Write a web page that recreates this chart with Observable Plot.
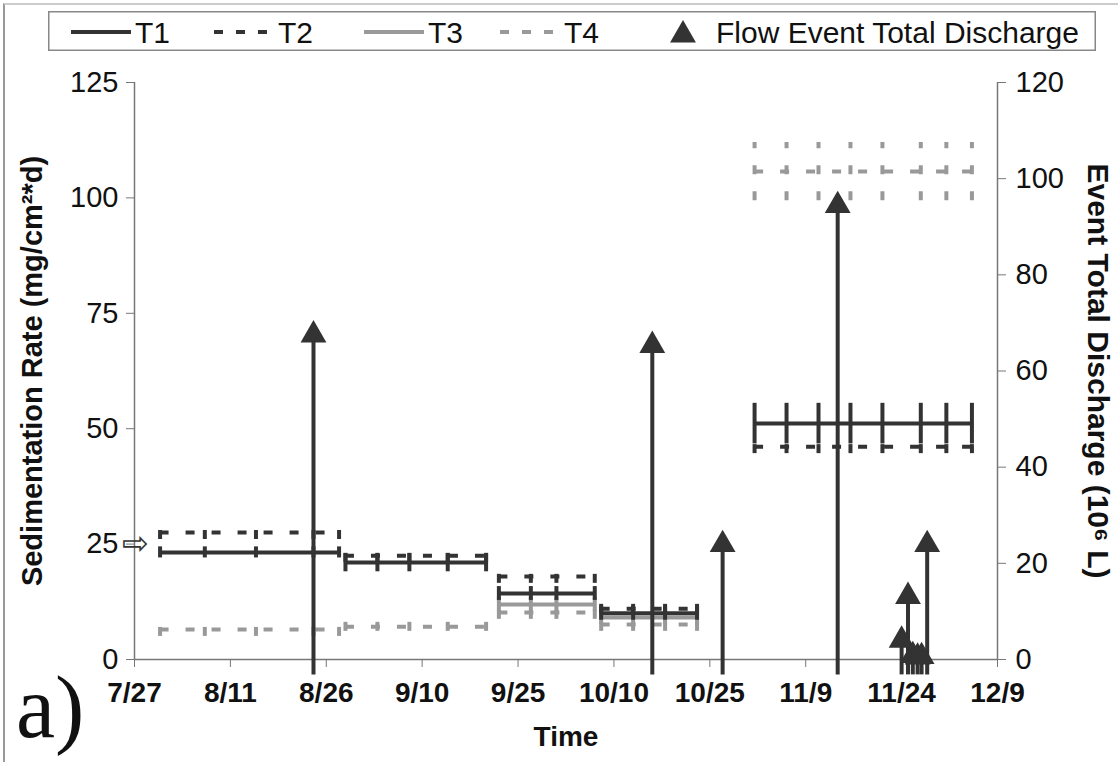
<!DOCTYPE html>
<html><head><meta charset="utf-8">
<script src="https://cdn.jsdelivr.net/npm/d3@7"></script>
<script src="https://cdn.jsdelivr.net/npm/@observablehq/plot@0.6"></script>
<style>
body{margin:0;background:#fff;font-family:"Liberation Sans",Arial,sans-serif;}
#wrap{position:relative;width:1118px;height:762px;overflow:hidden;background:#fff;}
#frame{position:absolute;left:3px;top:3px;width:1300px;height:900px;border-left:2px solid #999;border-top:2px solid #ccc;}
#chart{position:absolute;left:0;top:0;}
#legend{position:absolute;left:48px;top:11px;}
#panel{position:absolute;left:16px;top:664px;font-family:"Liberation Serif","Times New Roman",serif;font-size:88px;line-height:1;color:#111;}
</style></head>
<body>
<div id="wrap"><div id="frame"></div><div id="chart"></div><div id="legend"></div><div id="panel">a)</div></div>
<script>
// ---------- data ----------
const year = 2005;
const xTickLabels = ["7/27","8/11","8/26","9/10","9/25","10/10","10/25","11/9","11/24","12/9"];
const leftTicks = [0,25,50,75,100,125];
const rightTicks = [0,20,40,60,80,100,120];
// sampling dates (data points with error bars) in each deployment period
const periodSamples = [
  ["7/31","8/7","8/15","8/24","8/28"],
  ["8/29","9/3","9/8","9/14","9/20"],
  ["9/22","9/27","10/1","10/7"],
  ["10/8","10/13","10/18","10/23"],
  ["11/1","11/6","11/11","11/16","11/21","11/27","12/1","12/5"]
];
const seriesNames = ["T1","T2","T3","T4"];
const t1Values = [23.2, 21.0, 14.3, 10.0, 51.1];
const t1Errors = [1.2, 2.0, 1.5, 1.5, 4.4];
const t2Values = [27.5, 22.5, 18.0, 11.0, 46.1];
const t2Errors = [1.5, 1.5, 1.5, 1.0, 1.5];
const t3Values = [null, null, 11.9, 9.1, null];
const t3Errors = [null, null, 1.5, 1.5, null];
const t4Values = [6.5, 7.1, 10.2, 7.6, 105.7];
const t4Errors = [1.5, 1.0, 1.5, 1.5, 6.3];
const eventDates = ["8/24","10/16","10/27","11/14","11/24","11/25","11/25 18","11/26 12","11/27 3","11/28"];
const eventDischarge = [67.5, 65.3, 23.9, 94.4, 4.0, 13.1, 0.8, 0.5, 0.6, 23.9];
const legendLabel = "Flow Event Total Discharge";

// ---------- helpers ----------
const parse = s => { const [md, h] = s.split(" "); const [m, d] = md.split("/").map(Number); return new Date(year, m - 1, d, h ? +h : 0); };
const leftMax = 125, rightMax = 120;
const toLeft = v => v * leftMax / rightMax;
const dark = "#333333", gray = "#999999";
const styles = {
  T1: {stroke: dark, dash: null},
  T2: {stroke: dark, dash: "9,17"},
  T3: {stroke: gray, dash: null},
  T4: {stroke: gray, dash: "9,17"}
};
const seriesData = {T1: [t1Values, t1Errors], T2: [t2Values, t2Errors], T3: [t3Values, t3Errors], T4: [t4Values, t4Errors]};

const segs = [], bars = [];
seriesNames.forEach(name => {
  const [vals, errs] = seriesData[name];
  vals.forEach((v, i) => {
    if (v == null) return;
    const dates = periodSamples[i].map(parse);
    segs.push({series: name, y: v, x1: dates[0], x2: dates[dates.length - 1]});
    dates.forEach(d => bars.push({series: name, x: d, y1: v - errs[i], y2: v + errs[i]}));
  });
});
const events = eventDates.map((d, i) => ({date: parse(d), q: eventDischarge[i]}));
const xTickDates = xTickLabels.map(parse);
const labelOf = new Map(xTickDates.map((d, i) => [+d, xTickLabels[i]]));

const drawOrder = ["T4","T3","T2","T1"];
const seriesMarks = [];
drawOrder.forEach(name => {
  const st = styles[name];
  seriesMarks.push(Plot.ruleY(segs.filter(s => s.series === name), {y: "y", x1: "x1", x2: "x2", stroke: st.stroke, strokeWidth: 4, strokeDasharray: st.dash}));
  seriesMarks.push(Plot.ruleX(bars.filter(s => s.series === name), {x: "x", y1: "y1", y2: "y2", stroke: st.stroke, strokeWidth: 4, strokeDasharray: st.dash}));
});

const font = "Liberation Sans, Arial, sans-serif";
const chart = Plot.plot({
  width: 1118, height: 762,
  marginLeft: 134, marginRight: 121, marginTop: 82, marginBottom: 103,
  style: {fontFamily: font, background: "transparent", overflow: "visible"},
  x: {type: "time", domain: [xTickDates[0], xTickDates[xTickDates.length - 1]]},
  y: {domain: [0, leftMax]},
  marks: [
    // axis lines
    Plot.ruleX([xTickDates[0]], {stroke: "#777", strokeWidth: 1.5}),
    Plot.ruleX([xTickDates[xTickDates.length - 1]], {stroke: "#777", strokeWidth: 1.5}),
    Plot.ruleY([0], {stroke: "#777", strokeWidth: 1.5}),
    Plot.axisX({ticks: xTickDates, tickSize: 8, tickPadding: 15, tickFormat: d => labelOf.get(+d), fontSize: 28, fontWeight: "bold", stroke: "#777", fill: "#111", label: null}),
    Plot.axisY({anchor: "left", ticks: leftTicks, tickSize: 8, tickPadding: 8, fontSize: 29, stroke: "#777", fill: "#111", label: null}),
    Plot.axisY({anchor: "right", ticks: rightTicks.map(toLeft), tickSize: 8, tickPadding: 10, tickFormat: d => Math.round(d * rightMax / leftMax), fontSize: 29, stroke: "#777", fill: "#111", label: null}),
    // axis titles
    Plot.text(["Sedimentation Rate (mg/cm²*d)"], {frameAnchor: "left", textAnchor: "middle", dx: -102, rotate: -90, fontSize: 29, fontWeight: "bold", fill: "#111"}),
    Plot.text(["Event Total Discharge (10⁶ L)"], {frameAnchor: "right", textAnchor: "middle", dx: 100, rotate: 90, fontSize: 30, fontWeight: "bold", fill: "#111"}),
    Plot.text(["Time"], {frameAnchor: "bottom", dy: 86, fontSize: 28, fontWeight: "bold", fill: "#111"}),
    // annotation arrow at 25
    Plot.text([{x: xTickDates[0], y: 25}], {x: "x", y: "y", text: () => "⇨", textAnchor: "end", dx: 14, fontSize: 32, fill: "#333"}),
    // series
    ...seriesMarks,
    // flow events
    Plot.ruleX(events, {x: "date", y1: toLeft(-3.2), y2: d => toLeft(d.q), stroke: dark, strokeWidth: 4}),
    Plot.dot(events, {x: "date", y: d => toLeft(d.q), symbol: "triangle", r: 9.6, fill: dark, stroke: "none"})
  ]
});
document.getElementById("chart").appendChild(chart);

// ---------- legend ----------
const lg = d3.select("#legend").append("svg").attr("width", 1048).attr("height", 40)
  .style("font-family", font);
lg.append("rect").attr("x", 0.75).attr("y", 0.75).attr("width", 1046.5).attr("height", 38.5)
  .attr("fill", "white").attr("stroke", "#888").attr("stroke-width", 1.5);
const legendItems = [
  {name: "T1", x: 23},
  {name: "T2", x: 166},
  {name: "T3", x: 316},
  {name: "T4", x: 452}
];
legendItems.forEach(it => {
  const st = styles[it.name];
  lg.append("line").attr("x1", it.x).attr("x2", it.x + 60).attr("y1", 21).attr("y2", 21)
    .attr("stroke", st.stroke).attr("stroke-width", 4).attr("stroke-dasharray", st.dash ? "9,13" : null);
  lg.append("text").attr("x", it.x + 64).attr("y", 21).attr("dy", "0.36em")
    .attr("font-size", 30).attr("fill", "#111").text(it.name);
});
lg.append("path").attr("d", d3.symbol(d3.symbolTriangle, 290)()).attr("transform", "translate(635,24)").attr("fill", dark);
lg.append("text").attr("x", 668).attr("y", 21).attr("dy", "0.36em").attr("font-size", 30).attr("fill", "#111").text(legendLabel);
</script>
</body></html>
